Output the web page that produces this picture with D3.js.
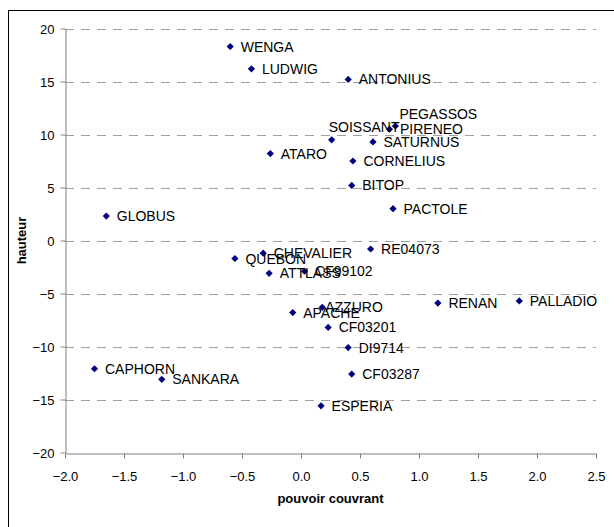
<!DOCTYPE html>
<html><head><meta charset="utf-8">
<script src="https://cdn.jsdelivr.net/npm/d3@7"></script>
<style>body{margin:0;background:#fff}svg{display:block}text{font-family:Arial,"Liberation Sans",sans-serif}</style>
</head><body>
<script>
const names = ["WENGA","LUDWIG","ANTONIUS","PEGASSOS","PIRENEO","SOISSANT","SATURNUS","ATARO","CORNELIUS","BITOP","PACTOLE","GLOBUS","RE04073","CHEVALIER","QUEBON","ATTLASS","CF99102","RENAN","PALLADIO","AZZURO","APACHE","CF03201","DI9714","CAPHORN","SANKARA","CF03287","ESPERIA"];
const xValues = [-0.60,-0.42,0.40,0.80,0.75,0.26,0.61,-0.26,0.44,0.43,0.78,-1.65,0.59,-0.32,-0.56,-0.27,0.03,1.16,1.85,0.18,-0.07,0.23,0.40,-1.75,-1.18,0.43,0.17];
const yValues = [18.3,16.2,15.2,10.8,10.5,9.5,9.3,8.2,7.5,5.2,3.0,2.3,-0.8,-1.2,-1.7,-3.1,-2.9,-5.9,-5.7,-6.3,-6.8,-8.2,-10.1,-12.1,-13.1,-12.6,-15.6];
const xTicks = [-2.0,-1.5,-1.0,-0.5,0.0,0.5,1.0,1.5,2.0,2.5];
const yTicks = [-20,-15,-10,-5,0,5,10,15,20];
const xTitle = "pouvoir couvrant";
const yTitle = "hauteur";

const W = 614, H = 527;
const svg = d3.select("body").append("svg").attr("width", W).attr("height", H);
svg.append("rect").attr("x", 8.5).attr("y", 10.5).attr("width", 700).attr("height", 700)
  .attr("fill", "none").attr("stroke", "#000").attr("stroke-width", 1);

const x = d3.scaleLinear().domain([-2, 2.5]).range([65, 596]);
const y = d3.scaleLinear().domain([-20, 20]).range([452.5, 28.5]);

// gridlines
svg.append("g").selectAll("line").data(yTicks.filter(t => t !== -20)).join("line")
  .attr("x1", x(-2)).attr("x2", x(2.5))
  .attr("y1", d => Math.round(y(d)) + 0.5).attr("y2", d => Math.round(y(d)) + 0.5)
  .attr("stroke", "#a0a0a0").attr("stroke-width", 1).attr("stroke-dasharray", "9,7");

const gx = svg.append("g").attr("transform", `translate(0,${Math.round(y(-20)) + 0.5})`)
  .call(d3.axisBottom(x).tickValues(xTicks).tickFormat(d3.format(".1f")).tickSize(5).tickSizeOuter(0));
const gy = svg.append("g").attr("transform", `translate(${Math.round(x(-2)) + 0.5},0)`)
  .call(d3.axisLeft(y).tickValues(yTicks).tickFormat(d3.format("d")).tickSize(5).tickSizeOuter(0));
[gx, gy].forEach(g => {
  g.select(".domain").attr("stroke", "#808080");
  g.selectAll(".tick line").attr("stroke", "#808080");
  g.selectAll("text").attr("font-size", 13).attr("fill", "#000")
    .attr("font-family", "Arial, 'Liberation Sans', sans-serif");
});
gx.selectAll("text").attr("dy", null).attr("y", 27);
gy.selectAll("text").attr("x", -11).attr("dy", "0.36em");

svg.append("text").attr("x", (x(-2) + x(2.5)) / 2).attr("y", 503).attr("text-anchor", "middle")
  .attr("font-size", 13).attr("font-weight", "bold").text(xTitle);
svg.append("text").attr("transform", `translate(26,${(y(-20) + y(20)) / 2}) rotate(-90)`)
  .attr("text-anchor", "middle").attr("font-size", 13).attr("font-weight", "bold").text(yTitle);

const pts = names.map((n, i) => ({ name: n, x: xValues[i], y: yValues[i] }));
const r = 3.6;
svg.append("g").selectAll("path").data(pts).join("path")
  .attr("d", `M0,${-r}L${r},0L0,${r}L${-r},0Z`)
  .attr("transform", d => `translate(${x(d.x)},${y(d.y)})`)
  .attr("fill", "#000080");

// manually shifted labels (as in the original chart)
const labelShift = { PEGASSOS: [4, -12], SOISSANT: [-3, -13], AZZURO: [3, 0] };
svg.append("g").selectAll("text").data(pts).join("text")
  .attr("x", d => x(d.x) + (labelShift[d.name] ? labelShift[d.name][0] : 10.5))
  .attr("y", d => y(d.y) + (labelShift[d.name] ? labelShift[d.name][1] : 0))
  .attr("dy", "0.36em").attr("font-size", 14).attr("fill", "#000")
  .text(d => d.name);
</script>
</body></html>
